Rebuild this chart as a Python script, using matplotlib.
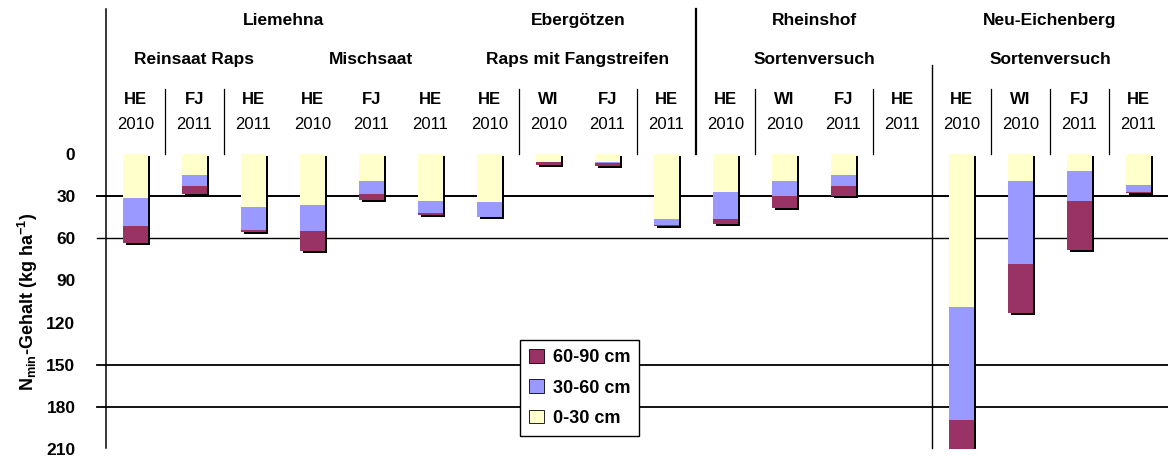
import matplotlib.pyplot as plt
import numpy as np
from matplotlib.patches import Patch

plt.rcParams['font.family'] = ['Liberation Sans', 'DejaVu Sans']
plt.rcParams['mathtext.fontset'] = 'custom'
plt.rcParams['mathtext.rm'] = 'Liberation Sans'
plt.rcParams['mathtext.bf'] = 'Liberation Sans:bold'

# column labels
variety = ['HE', 'FJ', 'HE', 'HE', 'FJ', 'HE', 'HE', 'WI', 'FJ', 'HE',
           'HE', 'WI', 'FJ', 'HE', 'HE', 'WI', 'FJ', 'HE']
year = ['2010', '2011', '2011', '2010', '2011', '2011', '2010', '2010', '2011', '2011',
        '2010', '2010', '2011', '2011', '2010', '2010', '2011', '2011']

# N-min per layer (kg/ha)
n_0_30 = np.array([31, 15, 37.5, 36.5, 19.5, 33.5, 34, 5.5, 6, 46.5,
                   27, 19.5, 15, 0, 109, 19.5, 12, 22])
n_30_60 = np.array([20.5, 8, 16.5, 18, 9, 8.5, 11, 0.5, 0.5, 4,
                    19.5, 10.5, 8, 0, 80.5, 58.5, 21.5, 5])
n_60_90 = np.array([12, 5.5, 1.5, 14.5, 4.5, 1.5, 0, 2, 2, 1,
                    3.5, 8.5, 7, 0, 25, 35, 35, 1])

# header groups: (label, first column, last column)
sites = [('Liemehna', 0, 5), ('Ebergötzen', 6, 9),
         ('Rheinshof', 10, 13), ('Neu-Eichenberg', 14, 17)]
trials = [('Reinsaat Raps', 0, 2), ('Mischsaat', 3, 5), ('Raps mit Fangstreifen', 6, 9),
          ('Sortenversuch', 10, 13), ('Sortenversuch', 14, 17)]
short_sep = [0, 1, 6, 8, 12, 14, 15, 16, 10]   # separator after these columns

c_top = '#FFFFCC'
c_mid = '#9999FF'
c_bot = '#993366'

fig = plt.figure(figsize=(11.68, 4.59), dpi=100)
ax = fig.add_axes([106/1168, 10/459, 1062/1168, 295/459])
x = np.arange(len(variety))
w = 0.41

total = n_0_30 + n_30_60 + n_60_90
ax.bar(x + 0.045, total, bottom=1.4, width=w, color='black', zorder=2)
ax.bar(x, n_0_30, width=w, color=c_top, zorder=3)
ax.bar(x, n_30_60, bottom=n_0_30, width=w, color=c_mid, zorder=3)
ax.bar(x, n_60_90, bottom=n_0_30 + n_30_60, width=w, color=c_bot, zorder=3)

ax.set_xlim(-0.5, 17.5)
ax.set_ylim(210, 0)
for s in ax.spines.values():
    s.set_visible(False)
ax.set_xticks([])
ax.set_yticks(range(0, 211, 30))
ax.tick_params(axis='y', length=0, pad=22, labelsize=12.5)
for lab in ax.get_yticklabels():
    lab.set_fontweight('bold')

# grid lines (only some levels)
for g, lw in [(30, 1.4), (60, 1.0), (150, 1.3), (180, 1.3)]:
    ax.plot([-0.65, 17.5], [g, g], color='black', lw=lw, zorder=1, clip_on=False)

# axis line and separators
ax.plot([-0.5, -0.5], [-103, 209], color='black', lw=1.1, clip_on=False)
ax.plot([9.5, 9.5], [-103, 0], color='black', lw=1.6, clip_on=False)
ax.plot([13.5, 13.5], [-63.5, 209], color='black', lw=1.0, clip_on=False)
for k in short_sep:
    ax.plot([k + 0.5, k + 0.5], [-46, 0], color='black', lw=0.9, clip_on=False)

# headers
for name, a, b in sites:
    ax.text((a + b) / 2, -95, name, ha='center', va='center', fontsize=12.5,
            fontweight='bold', clip_on=False)
for name, a, b in trials:
    ax.text((a + b) / 2, -67, name, ha='center', va='center', fontsize=12.5,
            fontweight='bold', clip_on=False)
for i in x:
    ax.text(i, -38.5, variety[i], ha='center', va='center', fontsize=12,
            fontweight='bold', clip_on=False)
    ax.text(i, -21, year[i], ha='center', va='center', fontsize=12, clip_on=False)

ax.set_ylabel(r'N$_{\mathbf{min}}$-Gehalt (kg ha$^{\mathbf{-1}}$)', fontsize=13,
              fontweight='bold')
ax.yaxis.set_label_coords(-0.062, 0.5)

handles = [Patch(facecolor=c_bot, edgecolor='black', lw=0.6, label='60-90 cm'),
           Patch(facecolor=c_mid, edgecolor='black', lw=0.6, label='30-60 cm'),
           Patch(facecolor=c_top, edgecolor='black', lw=0.6, label='0-30 cm')]
leg = ax.legend(handles=handles, loc='upper left', bbox_to_anchor=(0.39, 0.369),
                borderaxespad=0, frameon=True, fancybox=False, framealpha=1,
                edgecolor='black', prop={'weight': 'bold', 'size': 13},
                handlelength=0.8, handleheight=0.8, handletextpad=0.5,
                labelspacing=0.72, borderpad=0.5)
leg.get_frame().set_linewidth(1.0)
leg.set_zorder(5)

plt.savefig('out.png', dpi=100)
